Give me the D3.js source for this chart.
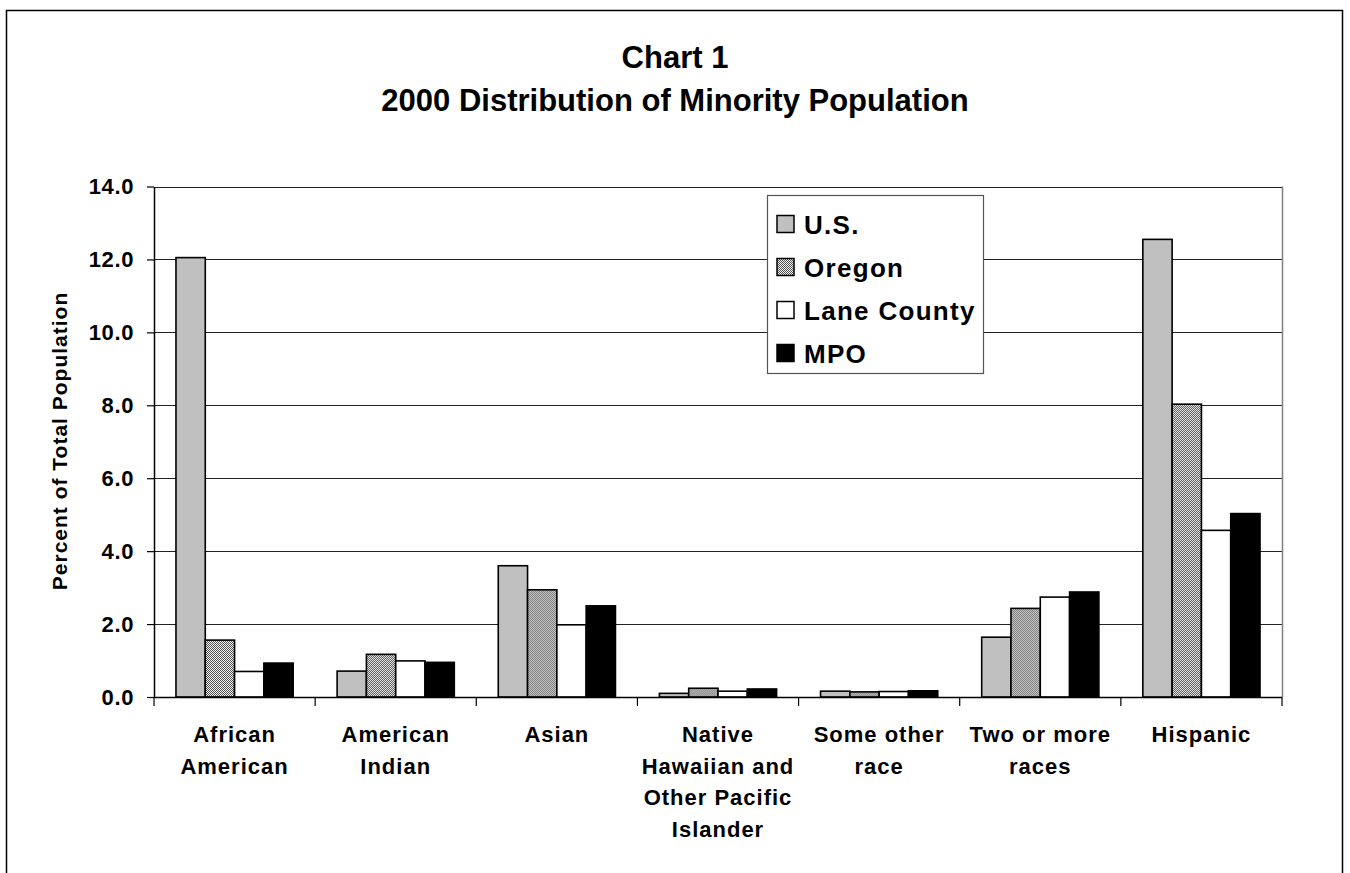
<!DOCTYPE html>
<html>
<head>
<meta charset="utf-8">
<script src="https://cdn.jsdelivr.net/npm/d3@7"></script>
<style>
  html, body { margin: 0; padding: 0; background: #fff; }
  svg { display: block; font-family: Arial, "Liberation Sans", sans-serif; font-weight: bold; }
</style>
</head>
<body>
<svg id="chart" width="1350" height="873"></svg>
<script>
// Minority population shares, 2000 (percent of total population)
const categories = [
  ["African", "American"],
  ["American", "Indian"],
  ["Asian"],
  ["Native", "Hawaiian and", "Other Pacific", "Islander"],
  ["Some other", "race"],
  ["Two or more", "races"],
  ["Hispanic"]
];
const seriesNames = ["U.S.", "Oregon", "Lane County", "MPO"];
const usValues     = [12.05, 0.71, 3.6, 0.1, 0.16, 1.64, 12.55];
const oregonValues = [1.56, 1.17, 2.94, 0.24, 0.14, 2.43, 8.03];
const laneValues   = [0.70, 0.99, 1.98, 0.16, 0.15, 2.74, 4.57];
const mpoValues    = [0.93, 0.95, 2.50, 0.22, 0.17, 2.88, 5.03];
const yTicks = [0, 2, 4, 6, 8, 10, 12, 14];

const seriesValues = [usValues, oregonValues, laneValues, mpoValues];
const fills = ["#c0c0c0", "url(#checker)", "#ffffff", "#000000"];

const svg = d3.select("#chart");

// hatched fill for the Oregon series
const defs = svg.append("defs");
const pat = defs.append("pattern").attr("id", "checker")
  .attr("width", 2).attr("height", 2).attr("patternUnits", "userSpaceOnUse");
pat.append("rect").attr("width", 2).attr("height", 2).attr("fill", "#f4f4f4");
pat.append("rect").attr("x", 0).attr("y", 0).attr("width", 1).attr("height", 1).attr("fill", "#505050");
pat.append("rect").attr("x", 1).attr("y", 1).attr("width", 1).attr("height", 1).attr("fill", "#505050");

// outer frame
svg.append("rect").attr("x", 6.5).attr("y", 10.5).attr("width", 1336).attr("height", 880)
  .attr("fill", "none").attr("stroke", "#000").attr("stroke-width", 1.5);

const plot = { left: 154, right: 1282, top: 186.5, bottom: 697 };

const x0 = d3.scaleBand()
  .domain(d3.range(categories.length))
  .range([plot.left, plot.right])
  .paddingInner(0).paddingOuter(0);

// bars occupy 4 of 5.5 bar widths in each category (gap width 150%)
const x1 = d3.scaleBand()
  .domain(d3.range(seriesNames.length))
  .range([0, x0.bandwidth()])
  .paddingInner(0)
  .paddingOuter(0.75);

const y = d3.scaleLinear().domain([0, 14]).range([plot.bottom, plot.top]);

// gridlines
svg.append("g").selectAll("line").data(yTicks.filter(d => d > 0)).join("line")
  .attr("x1", plot.left).attr("x2", plot.right)
  .attr("y1", d => Math.round(y(d)) + 0.5).attr("y2", d => Math.round(y(d)) + 0.5)
  .attr("stroke", "#222").attr("stroke-width", 1);

// right edge of plot area
svg.append("line").attr("x1", plot.right + 0.5).attr("x2", plot.right + 0.5)
  .attr("y1", plot.top).attr("y2", plot.bottom)
  .attr("stroke", "#808080").attr("stroke-width", 1.5);

// bars
const groups = svg.append("g").selectAll("g").data(categories).join("g")
  .attr("transform", (d, i) => `translate(${x0(i)},0)`);

groups.selectAll("rect")
  .data((d, i) => seriesValues.map((vals, s) => ({ s, v: vals[i] })))
  .join("rect")
  .attr("x", d => x1(d.s))
  .attr("width", x1.bandwidth())
  .attr("y", d => y(d.v))
  .attr("height", d => y(0) - y(d.v))
  .attr("fill", d => fills[d.s])
  .attr("stroke", "#000").attr("stroke-width", 1.6);

// y axis
const yAxis = d3.axisLeft(y).tickValues(yTicks).tickFormat(d3.format(".1f"))
  .tickSizeInner(7).tickSizeOuter(0).tickPadding(13);
const yg = svg.append("g").attr("transform", `translate(${plot.left},0)`).call(yAxis);
yg.select(".domain").attr("stroke", "#000").attr("stroke-width", 1.5);
yg.selectAll(".tick line").attr("stroke", "#000").attr("stroke-width", 1.2);
yg.selectAll(".tick text").attr("font-size", 22).attr("font-weight", "bold")
  .attr("font-family", "Arial, 'Liberation Sans', sans-serif").attr("fill", "#000")
  .attr("letter-spacing", 0.6)
  .attr("dy", "0.34em");

// x axis baseline and category ticks
svg.append("line").attr("x1", plot.left).attr("x2", plot.right)
  .attr("y1", plot.bottom + 0.5).attr("y2", plot.bottom + 0.5)
  .attr("stroke", "#000").attr("stroke-width", 1.5);
const boundaries = d3.range(categories.length + 1).map(i => i < categories.length ? x0(i) : plot.right);
svg.append("g").selectAll("line").data(boundaries).join("line")
  .attr("x1", d => d).attr("x2", d => d)
  .attr("y1", plot.bottom).attr("y2", plot.bottom + 9)
  .attr("stroke", "#000").attr("stroke-width", 1.2);

// category labels
const catG = svg.append("g").selectAll("text").data(categories).join("text")
  .attr("text-anchor", "middle").attr("font-size", 22).attr("fill", "#000")
  .attr("letter-spacing", 1);
catG.each(function (lines, i) {
  const t = d3.select(this);
  lines.forEach((ln, k) => {
    t.append("tspan").attr("x", x0(i) + x0.bandwidth() / 2)
      .attr("y", 742 + k * 31.5).text(ln);
  });
});

// y axis title
svg.append("text")
  .attr("transform", "translate(67,441) rotate(-90)")
  .attr("text-anchor", "middle").attr("font-size", 21).attr("fill", "#000")
  .attr("letter-spacing", 1)
  .text("Percent of Total Population");

// chart title
const title = svg.append("text").attr("text-anchor", "middle").attr("font-size", 31).attr("fill", "#000");
title.append("tspan").attr("x", 675).attr("y", 68).text("Chart 1");
title.append("tspan").attr("x", 675).attr("y", 111).text("2000 Distribution of Minority Population");

// legend
const legend = svg.append("g").attr("transform", "translate(767,195)");
legend.append("rect").attr("x", 0.5).attr("y", 0.5).attr("width", 216).attr("height", 178)
  .attr("fill", "#fff").attr("stroke", "#555").attr("stroke-width", 1.2);
const items = legend.selectAll("g.item").data(seriesNames).join("g").attr("class", "item")
  .attr("transform", (d, i) => `translate(0,${29 + i * 43})`);
items.append("rect").attr("x", 10).attr("y", -8.5).attr("width", 17).attr("height", 17)
  .attr("fill", (d, i) => fills[i]).attr("stroke", "#000").attr("stroke-width", 1.5);
items.append("text").attr("x", 37).attr("y", 9.5).attr("font-size", 26)
  .attr("letter-spacing", 1.3).attr("fill", "#000").text(d => d);
</script>
</body>
</html>
